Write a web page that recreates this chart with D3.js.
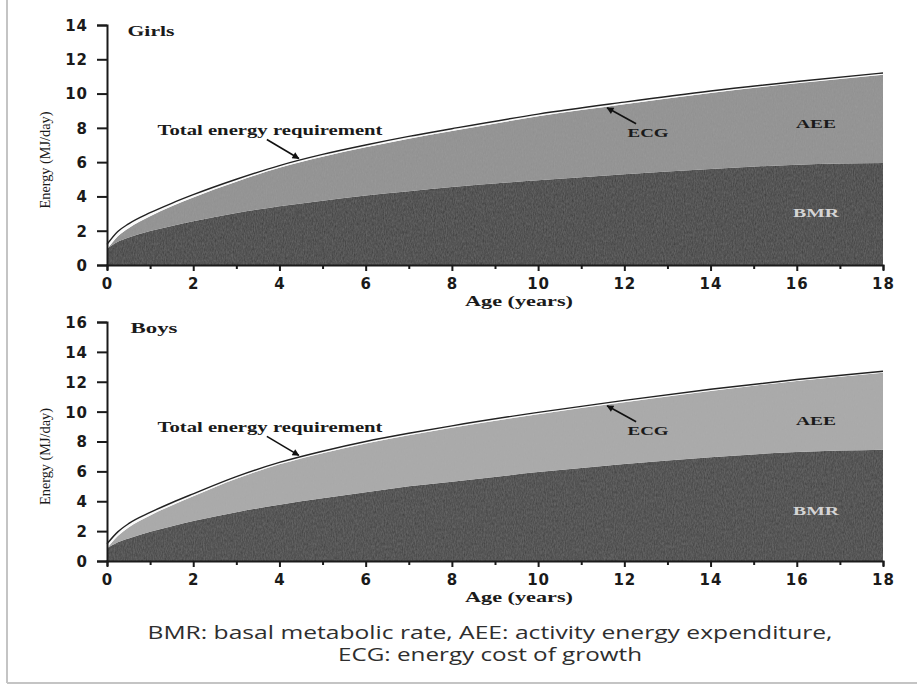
<!DOCTYPE html>
<html>
<head>
<meta charset="utf-8">
<script src="https://cdn.jsdelivr.net/npm/d3@7"></script>
<style>
  body { margin: 0; background: #fff; }
  svg { display: block; }
</style>
</head>
<body>
<svg width="917" height="686"></svg>
<script>
// ages in years, energy in MJ/day
const ages = [0, 0.25, 0.5, 1, 1.5, 2, 3, 4, 5, 6, 7, 8, 10, 12, 14, 16, 18];

const girlsTotal = [1.2, 1.95, 2.4, 3.05, 3.6, 4.1, 5.0, 5.8, 6.45, 7.0, 7.5, 7.95, 8.8, 9.5, 10.15, 10.7, 11.2];
const girlsBMR   = [0.95, 1.35, 1.6, 1.98, 2.28, 2.55, 3.03, 3.43, 3.75, 4.05, 4.3, 4.55, 4.95, 5.3, 5.6, 5.85, 5.95];
const girlsECG   = [0.3, 0.28, 0.25, 0.2, 0.18, 0.16, 0.14, 0.13, 0.13, 0.13, 0.13, 0.13, 0.13, 0.13, 0.12, 0.1, 0.1];

const boysTotal = [1.15, 1.95, 2.5, 3.25, 3.9, 4.5, 5.65, 6.6, 7.35, 8.0, 8.55, 9.05, 9.95, 10.75, 11.5, 12.15, 12.7];
const boysBMR   = [0.85, 1.25, 1.5, 1.95, 2.33, 2.67, 3.27, 3.77, 4.2, 4.6, 5.0, 5.3, 5.95, 6.5, 6.95, 7.3, 7.45];
const boysECG   = [0.3, 0.28, 0.25, 0.2, 0.18, 0.16, 0.14, 0.13, 0.13, 0.13, 0.13, 0.13, 0.13, 0.13, 0.12, 0.1, 0.1];

const xTicks = [0, 2, 4, 6, 8, 10, 12, 14, 16, 18];
const girlsYTicks = [0, 2, 4, 6, 8, 10, 12, 14];
const boysYTicks = [0, 2, 4, 6, 8, 10, 12, 14, 16];

const captionLines = [
  "BMR: basal metabolic rate, AEE: activity energy expenditure,",
  "ECG: energy cost of growth"
];
const captionWidths = [685, 304];

const svg = d3.select("svg");
const defs = svg.append("defs");

// grainy print look
const grain = defs.append("filter").attr("id", "grain")
  .attr("x", 0).attr("y", 0).attr("width", 1).attr("height", 1);
grain.append("feTurbulence").attr("type", "fractalNoise")
  .attr("baseFrequency", "0.9 0.35").attr("numOctaves", 2).attr("seed", 4).attr("result", "noise");
grain.append("feColorMatrix").attr("in", "noise").attr("type", "matrix")
  .attr("values", "0 0 0 0 0.5  0 0 0 0 0.5  0 0 0 0 0.5  0 0 0 0.22 0").attr("result", "tint");
grain.append("feComposite").attr("in", "tint").attr("in2", "SourceGraphic").attr("operator", "in").attr("result", "grainIn");
const merge = grain.append("feMerge");
merge.append("feMergeNode").attr("in", "SourceGraphic");
merge.append("feMergeNode").attr("in", "grainIn");

defs.append("marker").attr("id", "arrow")
  .attr("viewBox", "0 0 10 10").attr("refX", 9).attr("refY", 5)
  .attr("markerWidth", 9).attr("markerHeight", 7).attr("orient", "auto")
  .attr("markerUnits", "userSpaceOnUse")
  .append("path").attr("d", "M0,0 L10,5 L0,10 Z").attr("fill", "#111");

// page frame (left and bottom edge of the slide)
svg.append("line").attr("x1", 7).attr("x2", 7).attr("y1", 0).attr("y2", 683)
  .attr("stroke", "#c4c4c4").attr("stroke-width", 2);
svg.append("line").attr("x1", 7).attr("x2", 917).attr("y1", 683).attr("y2", 683)
  .attr("stroke", "#c4c4c4").attr("stroke-width", 2);

function drawPanel(opt) {
  const x = d3.scaleLinear().domain([0, 18]).range([107, 883]);
  const y = d3.scaleLinear().domain([0, opt.yMax]).range([opt.bottom, opt.top]);
  const g = svg.append("g");

  const rows = ages.map((a, i) => ({
    age: a, bmr: opt.bmr[i], total: opt.total[i], aeeTop: opt.total[i] - opt.ecg[i]
  }));
  const curve = d3.curveMonotoneX;

  // BMR
  g.append("path").datum(rows)
    .attr("d", d3.area().curve(curve).x(d => x(d.age)).y0(y(0)).y1(d => y(d.bmr)))
    .attr("fill", opt.bmrColor).attr("filter", "url(#grain)");
  // AEE
  g.append("path").datum(rows)
    .attr("d", d3.area().curve(curve).x(d => x(d.age)).y0(d => y(d.bmr)).y1(d => y(d.aeeTop)))
    .attr("fill", opt.aeeColor).attr("filter", "url(#grain)");
  // ECG (thin white band)
  g.append("path").datum(rows)
    .attr("d", d3.area().curve(curve).x(d => x(d.age)).y0(d => y(d.aeeTop)).y1(d => y(d.total)))
    .attr("fill", "#fafafa");
  // total energy requirement
  g.append("path").datum(rows)
    .attr("d", d3.line().curve(curve).x(d => x(d.age)).y(d => y(d.total)))
    .attr("fill", "none").attr("stroke", "#222").attr("stroke-width", 1.4);

  // axes
  const yAxis = g.append("g").attr("transform", `translate(${x(0)},0)`)
    .call(d3.axisLeft(y).tickValues(opt.yTicks).tickSize(10).tickPadding(9));
  const xAxis = g.append("g").attr("transform", `translate(0,${y(0)})`)
    .call(d3.axisBottom(x).tickValues(d3.range(0, 19, 1)).tickSize(5).tickPadding(8)
      .tickFormat(d => xTicks.includes(d) ? d : ""));
  [yAxis, xAxis].forEach(a => {
    a.select(".domain").attr("stroke", "#1a1a1a").attr("stroke-width", 2);
    a.selectAll(".tick line").attr("stroke", "#1a1a1a").attr("stroke-width", 2);
    a.selectAll(".tick text").attr("fill", "#1a1a1a")
      .style("font-family", "'DejaVu Sans', sans-serif").style("font-weight", "bold")
      .style("font-size", "15px").style("letter-spacing", "1px");
  });
  yAxis.selectAll(".tick text").attr("dy", "0.36em");
  xAxis.selectAll(".tick line").attr("y2", d => xTicks.includes(d) ? 6 : 4);

  const serif = "'Liberation Serif', 'Times New Roman', serif";
  function label(text, cx, cy, size, len, opts = {}) {
    return g.append("text").attr("x", cx).attr("y", cy)
      .attr("text-anchor", "middle").attr("dominant-baseline", "central")
      .attr("textLength", len).attr("lengthAdjust", "spacingAndGlyphs")
      .style("font-family", serif).style("font-weight", opts.weight || "bold")
      .style("font-size", size + "px").attr("fill", opts.fill || "#1a1a1a")
      .text(text);
  }

  label(opt.title, opt.titleX, opt.top + 6, 15, 47);
  label("Age (years)", 519, y(0) + 36, 14, 108);
  g.append("text")
    .attr("transform", `translate(45,${(opt.top + y(0)) / 2 + 15}) rotate(-90)`)
    .attr("text-anchor", "middle").attr("dominant-baseline", "central")
    .attr("textLength", 97).attr("lengthAdjust", "spacingAndGlyphs")
    .style("font-family", serif).style("font-size", "15px").attr("fill", "#1a1a1a")
    .text("Energy (MJ/day)");

  // annotations
  const tAge = 4.45;
  const tIdx = d3.bisectLeft(ages, tAge);
  const tTot = d3.interpolateNumber(opt.total[tIdx - 1], opt.total[tIdx])((tAge - ages[tIdx - 1]) / (ages[tIdx] - ages[tIdx - 1]));
  label("Total energy requirement", 270, y(tTot) - 30, 14, 225);
  g.append("line").attr("x1", x(tAge) - 32).attr("y1", y(tTot) - 21)
    .attr("x2", x(tAge)).attr("y2", y(tTot) - 2)
    .attr("stroke", "#111").attr("stroke-width", 1.6).attr("marker-end", "url(#arrow)");

  const eAge = 11.6;
  const eIdx = d3.bisectLeft(ages, eAge);
  const eTop = d3.interpolateNumber(opt.total[eIdx - 1] - opt.ecg[eIdx - 1], opt.total[eIdx] - opt.ecg[eIdx])((eAge - ages[eIdx - 1]) / (ages[eIdx] - ages[eIdx - 1]));
  g.append("line").attr("x1", x(eAge) + 29).attr("y1", y(eTop) + 17)
    .attr("x2", x(eAge)).attr("y2", y(eTop) + 1)
    .attr("stroke", "#111").attr("stroke-width", 1.6).attr("marker-end", "url(#arrow)");
  label("ECG", x(eAge) + 41, y(eTop) + 26, 13, 41);

  label("AEE", 816, opt.aeeY, 13, 40);
  label("BMR", 816, opt.bmrY, 13, 46, { fill: "#d4d4d4" });
}

drawPanel({
  title: "Girls", titleX: 151, yMax: 14, top: 25, bottom: 265, yTicks: girlsYTicks,
  total: girlsTotal, bmr: girlsBMR, ecg: girlsECG,
  aeeColor: "#8f8f8f", bmrColor: "#3b3b3b", aeeY: 123, bmrY: 212
});
drawPanel({
  title: "Boys", titleX: 154, yMax: 16, top: 322, bottom: 561, yTicks: boysYTicks,
  total: boysTotal, bmr: boysBMR, ecg: boysECG,
  aeeColor: "#a8a8a8", bmrColor: "#3e3e3e", aeeY: 420, bmrY: 510
});

// caption
svg.selectAll(".caption").data(captionLines).join("text")
  .attr("class", "caption")
  .attr("x", 490).attr("y", (d, i) => 639 + i * 22)
  .attr("text-anchor", "middle")
  .attr("textLength", (d, i) => captionWidths[i]).attr("lengthAdjust", "spacingAndGlyphs")
  .style("font-family", "'Open Sans', 'Noto Sans', sans-serif")
  .style("font-size", "19px").attr("fill", "#2e2e2e")
  .text(d => d);
</script>
</body>
</html>
